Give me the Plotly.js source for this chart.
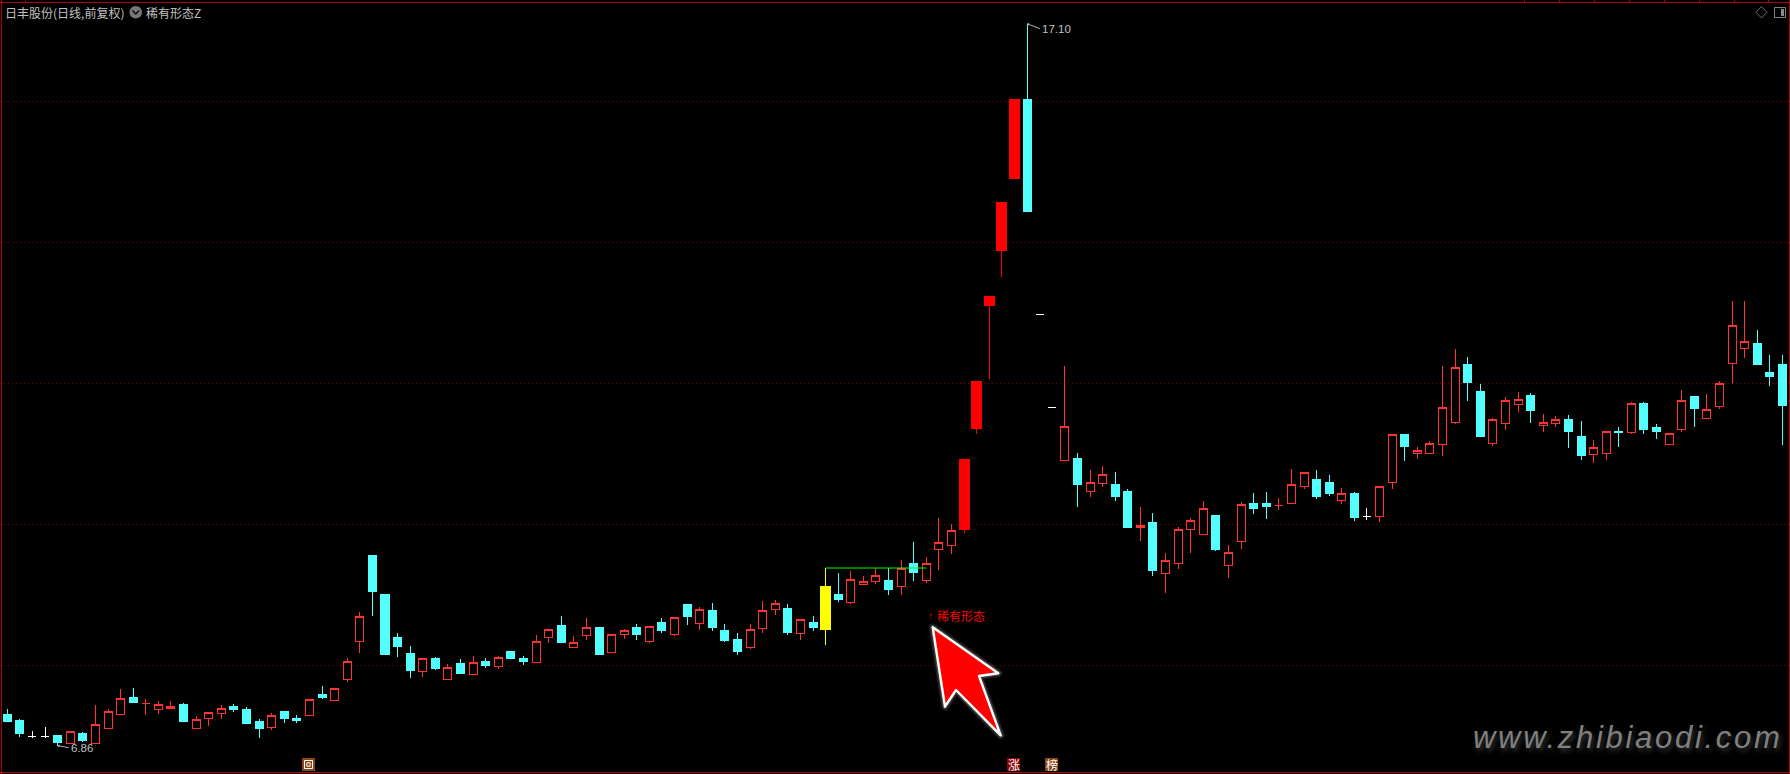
<!DOCTYPE html>
<html>
<head>
<meta charset="utf-8">
<script src="https://cdn.plot.ly/plotly-3.0.1.min.js"></script>
<style>
html,body{margin:0;padding:0;background:#000;overflow:hidden}
#chart{width:1790px;height:774px}
.shapelayer path{stroke-linejoin:round}
.boxlayer path{shape-rendering:crispEdges}
.annotation-text[data-unformatted^="www"]{letter-spacing:2.7px}
</style>
</head>
<body>
<div id="chart"></div>
<script>
const opens = [7.30,7.21,6.99,6.99,7.00,6.89,7.03,6.89,7.10,7.30,7.54,7.46,7.37,7.39,7.44,7.10,7.24,7.31,7.41,7.37,
7.20,7.12,7.34,7.24,7.29,7.58,7.50,7.80,8.34,9.56,9.01,8.40,8.17,7.91,8.10,7.80,8.02,7.87,8.05,7.99,
8.19,8.09,8.04,8.39,8.56,8.25,8.42,8.53,8.18,8.43,8.53,8.34,8.60,8.43,8.86,8.59,8.78,8.49,8.37,8.25,
8.52,8.79,8.81,8.45,8.60,8.52,9.00,8.89,9.14,9.19,9.20,9.12,9.45,9.20,9.64,9.70,9.94,11.37,13.12,13.90,
14.92,16.03,12.98,11.66,10.90,10.93,10.46,10.58,10.56,10.46,9.95,10.03,9.30,9.44,9.92,9.85,10.12,9.41,9.75,10.29,
10.29,10.26,10.29,10.53,10.64,10.59,10.34,10.43,10.11,10.11,10.59,11.27,11.00,11.00,11.13,11.44,12.26,11.89,11.14,11.43,
11.70,11.82,11.40,11.43,11.49,11.25,10.99,11.00,11.31,11.30,11.72,11.37,11.13,11.34,11.81,11.50,11.67,12.28,12.49,12.56,
12.16,12.26];
const highs = [7.38,7.24,7.07,7.12,7.00,7.06,7.05,7.44,7.38,7.66,7.68,7.52,7.49,7.49,7.47,7.28,7.33,7.44,7.45,7.41,
7.24,7.32,7.34,7.30,7.52,7.71,7.67,8.10,8.76,9.56,9.01,8.46,8.27,8.10,8.12,8.02,8.09,8.13,8.10,8.13,
8.20,8.13,8.43,8.51,8.70,8.42,8.67,8.53,8.43,8.52,8.59,8.55,8.67,8.68,8.87,8.83,8.88,8.59,8.46,8.59,
8.91,8.93,8.87,8.65,8.70,9.38,9.31,9.34,9.27,9.38,9.38,9.49,9.75,9.54,10.09,10.00,10.91,12.01,13.22,14.55,
16.01,17.10,12.98,11.66,12.25,11.01,10.77,10.83,10.74,10.50,10.25,10.16,9.59,9.96,10.09,10.33,10.12,9.71,10.32,10.44,
10.46,10.37,10.79,10.74,10.77,10.70,10.52,10.46,10.23,10.54,11.28,11.27,11.10,11.18,12.25,12.49,12.37,11.99,11.51,11.81,
11.88,11.86,11.57,11.54,11.55,11.47,11.20,11.31,11.38,11.74,11.74,11.42,11.29,11.91,11.81,11.85,12.03,13.17,13.17,12.76,
12.40,12.40];
const lows = [7.20,6.98,6.97,6.97,6.86,6.89,6.91,6.89,7.10,7.30,7.47,7.30,7.31,7.39,7.20,7.10,7.14,7.24,7.34,7.18,
6.97,7.08,7.18,7.18,7.29,7.52,7.50,7.76,8.17,8.70,8.15,8.12,7.82,7.83,7.93,7.80,7.88,7.87,7.96,7.95,
8.09,8.00,8.04,8.32,8.32,8.25,8.36,8.15,8.18,8.37,8.36,8.32,8.46,8.42,8.57,8.50,8.49,8.33,8.15,8.23,
8.46,8.71,8.43,8.36,8.49,8.29,8.90,8.87,9.14,9.15,9.00,9.00,9.20,9.17,9.35,9.58,9.88,11.28,12.06,13.51,
14.92,14.43,12.98,11.66,10.90,10.25,10.39,10.53,10.33,9.95,9.76,9.27,9.03,9.37,9.59,9.85,9.62,9.24,9.65,10.15,
10.08,10.20,10.29,10.50,10.36,10.40,10.29,10.05,10.06,10.03,10.50,10.90,10.93,11.00,10.97,11.42,11.75,11.24,11.11,11.34,
11.59,11.44,11.31,11.38,11.08,10.91,10.87,10.91,11.10,11.28,11.28,11.21,11.12,11.31,11.38,11.50,11.64,12.00,12.36,12.26,
11.96,11.13];
const closes = [7.20,7.03,6.99,6.99,6.90,7.06,6.93,7.16,7.35,7.53,7.47,7.46,7.45,7.42,7.20,7.23,7.33,7.39,7.37,7.18,
7.10,7.29,7.24,7.21,7.52,7.54,7.67,8.06,8.69,9.05,8.15,8.26,7.92,8.10,7.95,7.97,7.88,8.04,8.00,8.11,
8.10,8.06,8.34,8.51,8.32,8.33,8.54,8.15,8.43,8.50,8.43,8.55,8.50,8.68,8.69,8.79,8.53,8.35,8.20,8.51,
8.78,8.88,8.46,8.65,8.53,9.10,8.93,9.21,9.19,9.28,9.07,9.38,9.31,9.45,9.74,9.91,10.91,12.01,13.22,14.55,
16.01,14.43,12.98,11.66,11.39,10.56,10.60,10.70,10.40,9.96,9.99,9.34,9.48,9.93,10.06,10.23,9.64,9.60,10.28,10.22,
10.25,10.26,10.57,10.74,10.40,10.43,10.43,10.09,10.11,10.54,11.28,11.11,11.04,11.14,11.65,12.23,12.01,11.25,11.48,11.75,
11.77,11.62,11.45,11.49,11.31,10.98,11.09,11.31,11.30,11.72,11.35,11.31,11.29,11.76,11.64,11.63,12.00,12.82,12.60,12.27,
12.09,11.68];

const whiteBars = [2, 3, 82, 83, 108];
const yellowBars = [65];
const solidRedBars = [76, 77, 78, 79, 80];
const priceGrid = [8, 10, 12, 14, 16];
const peakIndex = 81, peakLabel = '17.10', peakPrice = 17.10;
const troughIndex = 4, troughLabel = '6.86', troughPrice = 6.86;
const breakoutLine = {x: [65, 73], y: [9.38, 9.38]};
const signalArrow = '↑', signalLabel = '稀有形态';
const signalArrowIndex = 72.98, signalIndex = 73.66, signalPrice = 8.70;
const titleStock = '日丰股份(日线,前复权)';
const titleFormula = '稀有形态Z';
const watermark = 'www.zhibiaodi.com';

const W = 1790, H = 774;
const C_RED = '#ff3232', C_SOLID = '#ff0000', C_CYAN = '#54ffff', C_WHITE = '#ffffff', C_YEL = '#ffff00';
const C_FRAME = '#b40000', C_GRID = '#7a0000', C_TEXT = '#c0c0c0';
const CJK = '"Noto Sans CJK SC", "Liberation Sans", sans-serif';
const px = x => x / W, py = y => 1 - y / H;

const allIdx = opens.map((_, i) => i);
const special = new Set([...whiteBars, ...yellowBars, ...solidRedBars]);
const isUp = i => closes[i] >= opens[i];

function candle(idx, color, fill, lw, bodyOnly) {
  const style = {line: {color: color, width: lw}, fillcolor: fill};
  return {
    type: 'candlestick',
    x: idx,
    open: idx.map(i => opens[i]),
    close: idx.map(i => closes[i]),
    high: idx.map(i => bodyOnly ? Math.max(opens[i], closes[i]) : highs[i]),
    low: idx.map(i => bodyOnly ? Math.min(opens[i], closes[i]) : lows[i]),
    increasing: style,
    decreasing: style,
    whiskerwidth: 0,
    hoverinfo: 'skip',
    showlegend: false
  };
}

const plainUp = allIdx.filter(i => !special.has(i) && isUp(i));
const plainDown = allIdx.filter(i => !special.has(i) && !isUp(i));

const traces = [
  candle(plainUp, C_RED, '#000000', 1),
  candle(plainDown, C_CYAN, C_CYAN, 1),
  candle(whiteBars, C_WHITE, C_WHITE, 1),
  candle(solidRedBars, C_SOLID, C_SOLID, 1),
  candle(solidRedBars, C_SOLID, C_SOLID, 3, true),
  candle(yellowBars, C_YEL, C_YEL, 1),
  candle(yellowBars, C_YEL, C_YEL, 3, true),
  {type: 'scatter', mode: 'lines', x: breakoutLine.x, y: breakoutLine.y,
   line: {color: '#00ff00', width: 1}, hoverinfo: 'skip', showlegend: false}
];

function pxRect(x0, y0, x1, y1, fill, line, lw) {
  return {type: 'rect', xref: 'paper', yref: 'paper', x0: px(x0), x1: px(x1), y0: py(y0), y1: py(y1),
    fillcolor: fill || 'rgba(0,0,0,0)', line: {color: line || 'rgba(0,0,0,0)', width: line ? (lw || 1) : 0}, layer: 'above'};
}
function pxPath(points, fill, line, lw, close) {
  const d = points.map((p, i) => (i ? 'L' : 'M') + px(p[0]).toFixed(5) + ',' + py(p[1]).toFixed(5)).join(' ') + (close ? ' Z' : '');
  return {type: 'path', xref: 'paper', yref: 'paper', path: d, fillcolor: fill || 'rgba(0,0,0,0)',
    line: {color: line, width: lw}, layer: 'above'};
}
function pxLine(x0, y0, x1, y1, color, lw) {
  return {type: 'line', xref: 'paper', yref: 'paper', x0: px(x0), x1: px(x1), y0: py(y0), y1: py(y1),
    line: {color: color, width: lw || 1}, layer: 'above'};
}

const arrowPts = [[932.7,627.3],[998.3,673.3],[979,676],[1000.7,735.3],[956,690],[945,706.7]];
const shapes = [
  pxLine(0, 2.5, W, 2.5, C_FRAME),
  pxLine(0, 772.5, W, 772.5, C_FRAME),
  pxLine(1.5, 0, 1.5, H, C_FRAME),
  pxLine(1789.5, 0, 1789.5, H, C_FRAME),
  pxLine(25.5, 0, 25.5, 2, C_FRAME),
  ...[1524,1559,1594,1629,1664,1699,1734,1768].map(x => pxLine(x + .5, 0, x + .5, 2, C_FRAME)),

  pxPath(arrowPts, 'rgba(0,0,0,0)', 'rgba(255,255,255,0.10)', 8, true),
  pxPath(arrowPts, 'rgba(0,0,0,0)', 'rgba(255,255,255,0.15)', 5, true),
  pxPath(arrowPts, '#ff0000', '#ffffff', 2.4, true),

  {type: 'circle', xref: 'paper', yref: 'paper', x0: px(129.5), x1: px(142), y0: py(6), y1: py(18.5),
   fillcolor: '#777777', line: {width: 0}, layer: 'above'},
  pxPath([[132.5,10.5],[135.8,14],[139,10.5]], null, '#111111', 1.6),

  pxPath([[1761.5,6.5],[1767,12.3],[1761.5,18],[1756,12.3]], null, '#707070', 1, true),
  {type: 'rect', xref: 'paper', yref: 'paper', x0: px(1774.5), x1: px(1785.5), y0: py(7.5), y1: py(17.5),
   fillcolor: 'rgba(0,0,0,0)', line: {color: '#808080', width: 1}, layer: 'above'},
  pxRect(1781, 9, 1784, 16, '#8a8a8a'),

  pxRect(302, 758, 315, 771, '#8b4513'),
  pxRect(304.5, 760.5, 312.5, 768.5, '#8b4513', '#ffffff', 1),
  pxRect(306.8, 762.8, 310.2, 766.2, '#8b4513', '#ffffff', 1),
  pxRect(1007, 758, 1020, 771, '#8b0000'),
  pxRect(1045, 758, 1058, 771, '#8b4513')
];

function pxText(text, x, y, size, color, anchor, extra) {
  return Object.assign({xref: 'paper', yref: 'paper', x: px(x), y: py(y), text: text, showarrow: false,
    xanchor: anchor || 'left', yanchor: 'middle', align: 'left', borderpad: 0,
    font: {family: CJK, size: size, color: color}}, extra || {});
}

const annotations = [
  pxText(titleStock, 4, 12, 12, C_TEXT),
  pxText(titleFormula, 145, 12, 12, C_TEXT),
  pxText('涨', 1013.5, 764.5, 12, '#ffffff', 'center'),
  pxText('榜', 1051.5, 764.5, 12, '#ffffff', 'center'),
  {xref: 'x', yref: 'y', x: signalArrowIndex, y: signalPrice, text: signalArrow, showarrow: false,
   xanchor: 'left', yanchor: 'middle', font: {family: '"Liberation Sans", sans-serif', size: 10, color: '#ff0000'}},
  {xref: 'x', yref: 'y', x: signalIndex, y: signalPrice, text: signalLabel, showarrow: false,
   xanchor: 'left', yanchor: 'middle', font: {family: CJK, size: 12, color: '#ff0000'}},
  {xref: 'x', yref: 'y', x: peakIndex, y: peakPrice, text: peakLabel, showarrow: true, arrowhead: 1, arrowsize: .6,
   arrowwidth: 1, arrowcolor: '#b0b0b0', ax: 13, ay: 5, xanchor: 'left', yanchor: 'middle',
   font: {family: '"Liberation Sans", sans-serif', size: 11.5, color: C_TEXT}},
  {xref: 'x', yref: 'y', x: troughIndex, y: troughPrice, text: troughLabel, showarrow: true, arrowhead: 1, arrowsize: .6,
   arrowwidth: 1, arrowcolor: '#b0b0b0', ax: 11, ay: 2, xanchor: 'left', yanchor: 'middle',
   font: {family: '"Liberation Sans", sans-serif', size: 11.5, color: C_TEXT}},
  pxText(watermark, 1472, 737, 31, '#808080', 'left', {
    font: {family: '"Liberation Sans", sans-serif', size: 31, color: '#808080', style: 'italic',
           shadow: '2px 3px 5px rgba(255,255,255,0.22)'}
  })
];

const layout = {
  width: W, height: H,
  margin: {l: 0, r: 0, t: 0, b: 0, pad: 0},
  paper_bgcolor: '#000000',
  plot_bgcolor: '#000000',
  showlegend: false,
  hovermode: false,
  boxmode: 'overlay',
  boxgap: 0.364,
  boxgroupgap: 0,
  xaxis: {range: [-0.58, 141.6], visible: false, showgrid: false, zeroline: false, fixedrange: true,
          rangeslider: {visible: false}},
  yaxis: {range: [6.458, 17.437], showticklabels: false, ticks: '', zeroline: false, showline: false,
          fixedrange: true, tickmode: 'array', tickvals: priceGrid, showgrid: true,
          gridcolor: C_GRID, gridwidth: 1, griddash: '1px,3px'},
  shapes: shapes,
  annotations: annotations
};

Plotly.newPlot('chart', traces, layout, {displayModeBar: false, staticPlot: true});
</script>
</body>
</html>
